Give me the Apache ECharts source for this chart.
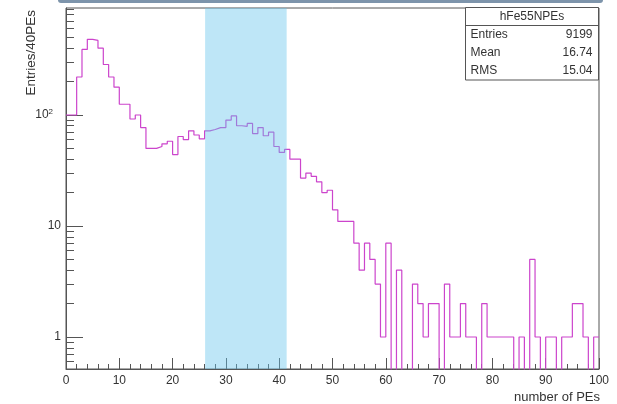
<!DOCTYPE html>
<html><head><meta charset="utf-8">
<script src="https://cdn.jsdelivr.net/npm/echarts@6/dist/echarts.min.js"></script>
<style>html,body{margin:0;padding:0;background:#fff}#c{width:617px;height:404px}</style>
</head><body><div id="c"></div>
<script>
// ---- data ----
const binWidth = 1;
const counts = [
  100, 100, 220, 390, 480, 470, 400, 285, 220, 178,
  125, 125, 92, 100, 77, 50, 50, 52, 55, 58,
  44, 64, 60, 72, 66, 61, 72, 74, 77, 77,
  90, 98, 80, 79, 84, 68, 77, 65, 70, 52,
  46, 49, 40, 40, 27, 30, 28, 25, 20, 21,
  14, 11, 11, 11, 7, 4, 7, 5, 3, 1,
  7, 0, 4, 0, 0, 3, 2, 1, 2, 2,
  0, 3, 1, 1, 2, 1, 1, 0, 2, 1,
  1, 1, 1, 1, 0, 1, 0, 5, 1, 0,
  1, 1, 0, 1, 1, 2, 2, 1, 0, 1
];
const xRange = [0, 100];
const xTickStep = 10;
const yRange = [0.515, 920];
const yMajorTicks = [1, 10, 100];
const yMinorTicks = [0.6, 0.7, 0.8, 0.9, 2, 3, 4, 5, 6, 7, 8, 9, 20, 30, 40, 50, 60, 70, 80, 90, 200, 300, 400, 500, 600, 700, 800, 900];
const bandRange = [26.1, 41.4];
const statsTitle = 'hFe55NPEs';
const statsNames = ['Entries', 'Mean', 'RMS'];
const statsValues = ['9199', '16.74', '15.04'];
const xTitle = 'number of PEs';
const yTitle = 'Entries/40PEs';

// ---- build ----
const FONT = '"Liberation Sans", Arial, sans-serif';
const TXT = '#333';
const histData = counts.map((v, i) => [xRange[0] + i * binWidth, v > 0 ? v : yRange[0] / 10]);
histData.push([xRange[0] + counts.length * binWidth, counts[counts.length - 1] > 0 ? counts[counts.length - 1] : yRange[0] / 10]);

const lg = v => Math.log10(v);
const chart = echarts.init(document.getElementById('c'), null, {renderer: 'canvas'});

const statsGraphics = [];
const bx = 465.5, by = 7.5, bw = 133, bh = 72.5, hh = 18;
statsGraphics.push({type: 'rect', z: 20, shape: {x: bx, y: by, width: bw, height: bh}, style: {fill: '#fff', stroke: '#555', lineWidth: 1}});
statsGraphics.push({type: 'line', z: 21, shape: {x1: bx, y1: by + hh, x2: bx + bw, y2: by + hh}, style: {stroke: '#555', lineWidth: 1}});
statsGraphics.push({type: 'text', z: 21, x: bx + bw / 2, y: by + hh / 2 + 0.5, style: {text: statsTitle, font: '12px ' + FONT, fill: TXT, align: 'center', verticalAlign: 'middle'}});
statsNames.forEach((n, i) => {
  const yy = by + hh + 9.5 + i * 18;
  statsGraphics.push({type: 'text', z: 21, x: bx + 5, y: yy, style: {text: n, font: '12px ' + FONT, fill: TXT, align: 'left', verticalAlign: 'middle'}});
  statsGraphics.push({type: 'text', z: 21, x: bx + bw - 6, y: yy, style: {text: statsValues[i], font: '12px ' + FONT, fill: TXT, align: 'right', verticalAlign: 'middle'}});
});

const option = {
  animation: false,
  backgroundColor: '#fff',
  grid: {left: 66, right: 18, top: 8, bottom: 35, show: true, borderColor: '#555', borderWidth: 1, backgroundColor: 'transparent'},
  xAxis: {
    type: 'value', min: xRange[0], max: xRange[1], interval: xTickStep,
    axisLine: {show: true, onZero: false, lineStyle: {color: '#555', width: 1}},
    axisTick: {show: true, inside: true, length: 11, lineStyle: {color: '#555'}},
    minorTick: {show: true, splitNumber: 5, length: 5, lineStyle: {color: '#555'}},
    axisLabel: {color: TXT, fontSize: 12, fontFamily: FONT, margin: 6},
    splitLine: {show: false}
  },
  yAxis: [
    {type: 'log', logBase: 10, min: yRange[0], max: yRange[1],
      axisLine: {show: false}, axisTick: {show: false}, axisLabel: {show: false}, splitLine: {show: false}},
    {type: 'value', min: lg(yRange[0]), max: lg(yRange[1]), position: 'left',
      axisLine: {show: true, onZero: false, lineStyle: {color: '#555'}},
      axisTick: {show: true, inside: true, length: 17, customValues: yMajorTicks.map(lg), lineStyle: {color: '#555'}},
      axisLabel: {show: true, customValues: yMajorTicks.map(lg), margin: 5, color: TXT, fontFamily: FONT,
        formatter: v => { const n = Math.round(Math.pow(10, v)); return n >= 100 ? '{b|10}{s|' + Math.round(v) + '}' : '{b|' + n + '}'; },
        rich: {b: {fontSize: 12, fontFamily: FONT, color: TXT, lineHeight: 14}, s: {fontSize: 8, fontFamily: FONT, color: TXT, verticalAlign: 'top', lineHeight: 14, padding: [0, 8, 6, 0]}}},
      splitLine: {show: false}},
    {type: 'value', min: lg(yRange[0]), max: lg(yRange[1]), position: 'left',
      axisLine: {show: false},
      axisTick: {show: true, inside: true, length: 8, customValues: yMinorTicks.map(lg), lineStyle: {color: '#555'}},
      axisLabel: {show: false}, splitLine: {show: false}}
  ],
  series: [{
    type: 'line', yAxisIndex: 0, step: 'end', showSymbol: false, symbol: 'none', z: 2,
    lineStyle: {color: '#cc44cc', width: 1.2},
    data: histData,
    markArea: {silent: true, z: 5, itemStyle: {color: 'rgba(100,195,235,0.42)'},
      data: [[{xAxis: bandRange[0]}, {xAxis: bandRange[1]}]]}
  }],
  graphic: [
    {type: 'rect', z: 30, shape: {x: 58, y: -3, width: 545, height: 6, r: 3}, style: {fill: '#7d94ab'}},
    {type: 'text', z: 21, x: 600, y: 397, style: {text: xTitle, font: '13px ' + FONT, fill: TXT, align: 'right', verticalAlign: 'middle'}},
    {type: 'text', z: 21, x: 31, y: 10, rotation: Math.PI / 2, style: {text: yTitle, font: '13.5px ' + FONT, fill: TXT, align: 'right', verticalAlign: 'middle'}}
  ].concat(statsGraphics)
};
chart.setOption(option);
</script>
</body></html>
